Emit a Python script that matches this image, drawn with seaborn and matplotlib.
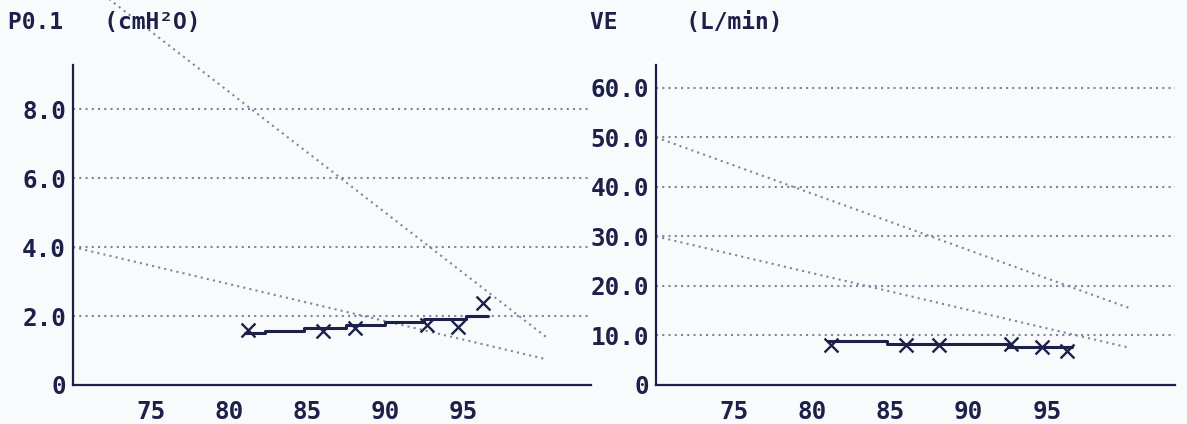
import matplotlib
matplotlib.use("Agg")
import matplotlib.pyplot as plt
import pandas as pd
import seaborn as sns

# values
marker_x = [81.2, 86.0, 88.1, 92.7, 94.7, 96.3]
p01_y = [1.59, 1.56, 1.65, 1.74, 1.68, 2.38]
ve_y = [8.0, 8.1, 8.1, 8.3, 7.7, 6.9]

p01_step_x = [81.0, 82.3, 84.8, 87.5, 90.0, 92.5, 95.2, 96.6]
p01_step_y = [1.50, 1.57, 1.64, 1.73, 1.82, 1.92, 2.00, 2.00]
ve_step_x = [81.0, 84.8, 92.5, 96.6]
ve_step_y = [8.95, 8.3, 7.75, 7.75]

ref_x = [70, 100.3]
p01_ref_hi = [12.0, 1.4]
p01_ref_lo = [4.0, 0.75]
ve_ref_hi = [50.0, 15.5]
ve_ref_lo = [30.0, 7.5]

x_ticks = [75, 80, 85, 90, 95]
p01_ticks = [0, 2, 4, 6, 8]
p01_labels = ["0", "2.0", "4.0", "6.0", "8.0"]
ve_ticks = [0, 10, 20, 30, 40, 50, 60]
ve_labels = ["0", "10.0", "20.0", "30.0", "40.0", "50.0", "60.0"]

INK = "#1d2048"
DOT = "#80849e"
BG = "#f8fafc"

sns.set_theme(style="white")
plt.rcParams["font.family"] = ["DejaVu Sans Mono", "DejaVu Sans"]
plt.rcParams["font.weight"] = "bold"

fig = plt.figure(figsize=(11.87, 4.24), dpi=100, facecolor=BG)
ax1 = fig.add_axes([0.0615, 0.092, 0.4364, 0.7547])
ax2 = fig.add_axes([0.5527, 0.092, 0.4372, 0.7547])


def draw_panel(ax, ys, step_x, step_y, ref_hi, ref_lo, ticks, labels, ymax):
    ax.set_facecolor(BG)
    for t in ticks[1:]:
        ax.axhline(t, color=DOT, lw=1.5, dashes=(1, 2.0), zorder=1)
    for ref in (ref_hi, ref_lo):
        sns.lineplot(x=ref_x, y=ref, ax=ax, color=DOT, lw=1.5,
                     clip_on=False, zorder=1).lines[-1].set_dashes((1, 2.0))
    steps = pd.DataFrame({"x": step_x, "y": step_y})
    sns.lineplot(data=steps, x="x", y="y", ax=ax, color=INK, lw=2.2,
                 drawstyle="steps-post", estimator=None, sort=False, zorder=3)
    pts = pd.DataFrame({"x": marker_x, "y": ys})
    sns.scatterplot(data=pts, x="x", y="y", ax=ax, marker="x", s=100,
                    color=INK, linewidth=1.7, zorder=4)
    ax.set_xlim(70, 103.2)
    ax.set_ylim(0, ymax)
    ax.set_xticks(x_ticks)
    ax.set_xticklabels([str(v) for v in x_ticks])
    ax.set_yticks(ticks)
    ax.set_yticklabels(labels)
    ax.set_xlabel("")
    ax.set_ylabel("")
    for side in ("top", "right"):
        ax.spines[side].set_visible(False)
    for side in ("left", "bottom"):
        ax.spines[side].set_color(INK)
        ax.spines[side].set_linewidth(1.6)
    ax.tick_params(axis="x", direction="out", length=10, width=1.4,
                   color=INK, labelcolor=INK, labelsize=17.5, pad=1)
    ax.tick_params(axis="y", direction="out", length=3, width=1.6,
                   color=INK, labelcolor=INK, labelsize=17.5, pad=2)
    ax.grid(False)


draw_panel(ax1, p01_y, p01_step_x, p01_step_y, p01_ref_hi, p01_ref_lo,
           p01_ticks, p01_labels, 9.28)
draw_panel(ax2, ve_y, ve_step_x, ve_step_y, ve_ref_hi, ve_ref_lo,
           ve_ticks, ve_labels, 64.6)

fig.text(8 / 1187, 1 - 22 / 424, "P0.1   (cmH²O)", color=INK, fontsize=16.5,
         va="center", ha="left")
fig.text(590 / 1187, 1 - 22 / 424, "VE     (L/min)", color=INK, fontsize=16.5,
         va="center", ha="left")

fig.savefig("out.png", dpi=100, facecolor=BG)
